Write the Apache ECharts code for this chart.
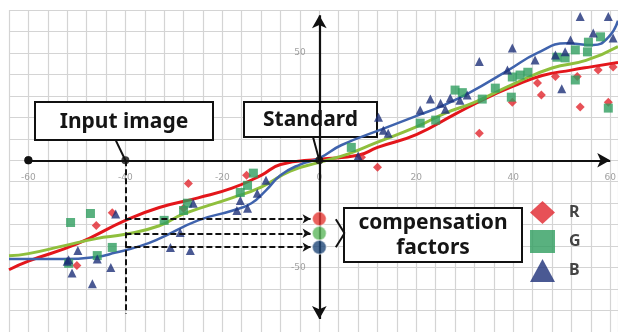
<!DOCTYPE html>
<html>
<head>
<meta charset="utf-8">
<script src="https://cdn.jsdelivr.net/npm/echarts@6/dist/echarts.min.js"></script>
<style>html,body{margin:0;padding:0;background:#fff;}#c{width:618px;height:332px;}</style>
</head>
<body>
<div id="c"></div>
<script>
// ---- data ----
var xTickLabels = [-60, -40, -20, 0, 20, 40, 60];
var yTickLabels = [-50, 50];

var rPoints = [[-50,-49],[-46,-30.4],[-42.7,-24.5],[-28,-22.4],[-27,-10.8],[-15,-7],[8.7,1.4],[12,-3.3],[33,12.6],[39.8,27],[45,36],[45.8,30.4],[48.7,39],[53.2,39],[53.8,24.8],[57.5,42],[59.6,27],[60.6,43.5]];
var gPoints = [[-51.7,-48],[-51.3,-29],[-47.2,-24.8],[-45.8,-44.4],[-42.7,-40.6],[-32,-28],[-28,-23.4],[-27.2,-20],[-16.3,-15],[-14.8,-11.7],[-13.6,-6],[6.6,6],[20.8,17.3],[24,18.7],[28,32.7],[29.5,31.5],[33.6,28.5],[36.3,33.6],[39.6,29.4],[39.8,38.8],[41.4,39.7],[43,41],[49,48],[50.7,47.7],[52.8,51.4],[52.8,37.4],[55.3,50.5],[55.5,55],[58,57.5],[59.6,24.3]];
var bPoints = [[-52,-47],[-51.7,-46.3],[-51,-52.5],[-49.8,-42],[-46.8,-57.5],[-45.8,-46],[-43,-50],[-42,-25],[-30.7,-40.6],[-28.7,-33.6],[-26.6,-42],[-26,-20],[-17,-23.4],[-16.3,-18.7],[-14.8,-22.4],[-12.8,-15.4],[-11,-9.3],[8,2],[12.2,20],[13.2,14],[14.2,12.6],[20.8,23.4],[22.9,28.5],[25,26.6],[26,23.8],[27,29],[29,28],[30.5,30.4],[33,46],[38.8,42],[39.8,52.3],[44.5,46.7],[48.7,49],[50,33.3],[50.7,50.5],[51.8,56],[53.8,67],[56.5,59.3],[59.6,67],[60.6,57]];

var rCurve = [[-64,-51],[-60,-47],[-50,-39],[-40,-28],[-33,-22],[-25,-17.5],[-18,-13],[-12,-7],[-8,-2],[0,0.5],[8,2.3],[12,6],[20,12],[28,21.5],[34,28.5],[40,34.5],[46,39.5],[52,42],[56,43.5],[61.6,45.5]];
var gCurve = [[-64,-44.5],[-60,-43.5],[-53,-40],[-46,-36.5],[-40,-34.5],[-33,-30.5],[-28,-25],[-18,-17.5],[-12,-12.5],[-6,-5],[0,-1],[6,3],[11.5,8],[20,15.5],[26,22],[32,27],[40,35.5],[48,43],[55,46.5],[61.6,53]];
var bCurve = [[-64,-46],[-58,-46],[-53,-46],[-46,-45],[-42,-43],[-37,-40],[-33,-36.5],[-25,-28],[-18,-23.5],[-14,-20],[-11,-14],[-8,-7],[-4,-2],[0,1],[4.5,7],[13.5,15],[21,21.5],[25,25],[31,31.5],[39,42],[45,50],[51,54.5],[56.5,53.7],[59.5,57],[61.6,65]];

var inputX = -40;
var compFactors = [-27.3, -34, -40.5];   // R, G, B at input x
var compColors = ['#e53935', '#5cb85c', '#1f4778'];
var boxes = [
  {name: 'Input image', at: [-40.2, 18.3], w: 178, h: 38, pointer: [[-42, 9.4], [-40, 0]]},
  {name: 'Standard', at: [-1.8, 19], w: 133, h: 35, pointer: [[-1.3, 10.8], [0, 0]]},
  {name: 'compensation\nfactors', at: [23.5, -35], w: 178, h: 54, pointer: null}
];

// ---- chart ----
var chart = echarts.init(document.getElementById('c'), null, {renderer: 'canvas'});
var black = '#111';

var annotLines = [
  [{coord: [-60, 0], symbol: 'circle', symbolSize: 8}, {coord: [60, 0], symbol: 'arrow', symbolSize: [11, 13]}],
  [{coord: [0, -74], symbol: 'arrow', symbolSize: [11, 13]}, {coord: [0, 67.5], symbol: 'arrow', symbolSize: [11, 13]}]
];
var dashLines = [
  [{coord: [inputX, 0], symbol: 'none'}, {coord: [inputX, -71.5], symbol: 'none'}]
];
compFactors.forEach(function (v) {
  dashLines.push([{coord: [inputX, v], symbol: 'none'}, {coord: [-1.8, v], symbol: 'arrow', symbolSize: [7, 8]}]);
});
var pointerLines = [];
boxes.forEach(function (b) {
  if (b.pointer) pointerLines.push([{coord: b.pointer[0], symbol: 'none'}, {coord: b.pointer[1], symbol: 'none'}]);
});
pointerLines.push([{coord: [3.4, -27.5], symbol: 'none'}, {coord: [5.2, -34], symbol: 'none'}]);
pointerLines.push([{coord: [5.2, -34], symbol: 'none'}, {coord: [3.4, -40.5], symbol: 'none'}]);

var tickLabelStyle = {fontSize: 9, color: '#8a8a8a', fontFamily: 'DejaVu Sans'};

var option = {
  animation: false,
  backgroundColor: '#fff',
  grid: {left: 9, right: 0, top: 10, bottom: 0, containLabel: false, outerBoundsMode: 'none'},
  xAxis: {
    type: 'value', min: -64, max: 61.6, interval: 4,
    axisLine: {show: false}, axisTick: {show: false}, axisLabel: {show: false},
    splitLine: {show: true, lineStyle: {color: '#d4d4d4', width: 1.2}}
  },
  yAxis: {
    type: 'value', min: -80, max: 70, interval: 10,
    axisLine: {show: false}, axisTick: {show: false}, axisLabel: {show: false},
    splitLine: {show: true, lineStyle: {color: '#d4d4d4', width: 1.2}}
  },
  legend: {
    orient: 'vertical', left: 525, top: 196, itemWidth: 25, itemHeight: 23, itemGap: 6,
    data: ['R', 'G', 'B'],
    textStyle: {fontSize: 16, fontWeight: 'bold', color: '#444', fontFamily: 'Noto Sans', padding: [0, 0, 0, 9]}
  },
  series: [
    {name: 'xTicks', type: 'scatter', symbolSize: 1, itemStyle: {color: 'rgba(0,0,0,0)'}, z: 2, silent: true,
      data: xTickLabels.map(function (v) { return [v, 0]; }),
      label: Object.assign({show: true, position: 'bottom', distance: 12,
        formatter: function (p) { return String(p.value[0]); }}, tickLabelStyle)},
    {name: 'yTicks', type: 'scatter', symbolSize: 1, itemStyle: {color: 'rgba(0,0,0,0)'}, z: 2, silent: true,
      data: yTickLabels.map(function (v) { return [0, v]; }),
      label: Object.assign({show: true, position: 'left', distance: 13,
        formatter: function (p) { return String(p.value[1]); }}, tickLabelStyle)},
    {name: 'R fit', type: 'line', data: rCurve, smooth: 0.5, showSymbol: false, z: 3,
      lineStyle: {color: '#e3161b', width: 3}},
    {name: 'G fit', type: 'line', data: gCurve, smooth: 0.5, showSymbol: false, z: 3,
      lineStyle: {color: '#8fbf3d', width: 3}},
    {name: 'B fit', type: 'line', data: bCurve, smooth: 0.5, showSymbol: false, z: 3,
      lineStyle: {color: '#3f63ad', width: 2.5}},
    {name: 'R', type: 'scatter', data: rPoints, symbol: 'diamond', symbolSize: 9, z: 4,
      itemStyle: {color: '#e1262d'}},
    {name: 'G', type: 'scatter', data: gPoints, symbol: 'rect', symbolSize: 9, z: 4,
      itemStyle: {color: '#2f9e5f'}},
    {name: 'B', type: 'scatter', data: bPoints, symbol: 'triangle', symbolSize: 9, z: 4,
      itemStyle: {color: '#1d2f78'}},
    {name: 'axes', type: 'scatter', data: [[-60, 0], [inputX, 0], [0, 0]], symbolSize: 8, z: 6,
      itemStyle: {color: black},
      markLine: {silent: true, animation: false, label: {show: false}, z: 5,
        lineStyle: {color: black, width: 2.2, type: 'solid'}, data: annotLines}},
    {name: 'dashes', type: 'scatter', data: [], z: 6,
      markLine: {silent: true, animation: false, label: {show: false}, z: 6,
        lineStyle: {color: black, width: 2, type: [6, 3]}, data: dashLines}},
    {name: 'pointers', type: 'scatter', data: [], z: 7,
      markLine: {silent: true, animation: false, label: {show: false}, z: 7,
        lineStyle: {color: black, width: 2, type: 'solid'}, data: pointerLines}},
    {name: 'factors', type: 'scatter', z: 8, symbolSize: 14,
      data: compFactors.map(function (v, i) {
        return {value: [0, v], itemStyle: {color: compColors[i], borderColor: 'rgba(255,255,255,0.6)', borderWidth: 1.5}};
      })}
  ]
};
chart.setOption(option);

// text boxes anchored at data coordinates
var graphics = boxes.map(function (b) {
  var c = chart.convertToPixel({gridIndex: 0}, b.at);
  var multi = b.name.indexOf('\n') >= 0;
  return {
    type: 'group', x: Math.round(c[0] - b.w / 2), y: Math.round(c[1] - b.h / 2), z: 100,
    children: [
      {type: 'rect', shape: {x: 0, y: 0, width: b.w, height: b.h},
        style: {fill: '#fff', stroke: black, lineWidth: 2}},
      {type: 'text', x: b.w / 2, y: b.h / 2 + 1,
        style: {text: b.name, fill: '#151515', font: 'bold 21px "Noto Sans"',
          align: 'center', verticalAlign: 'middle', textAlign: 'center', textVerticalAlign: 'middle',
          lineHeight: multi ? 25 : 24}}
    ]
  };
});
chart.setOption({graphic: graphics});
</script>
</body>
</html>
